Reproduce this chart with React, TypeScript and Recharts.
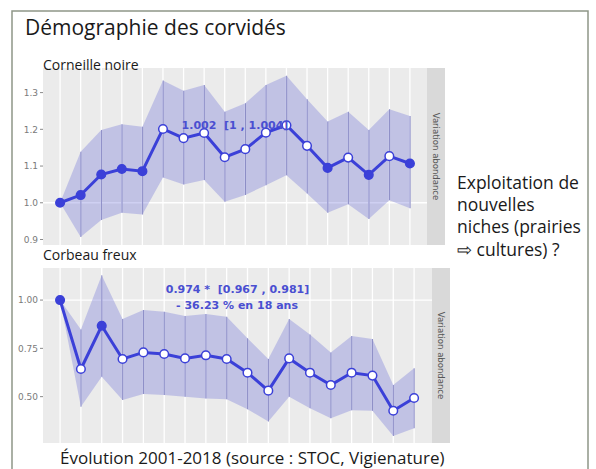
import React from "react";
import { ComposedChart, Line, Area, Bar, XAxis, YAxis, CartesianGrid } from "recharts";

const years = [2001, 2002, 2003, 2004, 2005, 2006, 2007, 2008, 2009, 2010, 2011, 2012, 2013, 2014, 2015, 2016, 2017, 2018];

const crowValues = [1.0, 1.021, 1.077, 1.092, 1.086, 1.201, 1.176, 1.19, 1.124, 1.146, 1.191, 1.211, 1.155, 1.095, 1.123, 1.076, 1.127, 1.107];
const crowLower = [1.0, 0.907, 0.953, 0.973, 0.968, 1.069, 1.05, 1.062, 1.003, 1.021, 1.048, 1.075, 1.025, 0.973, 0.996, 0.956, 1.007, 0.985];
const crowUpper = [1.0, 1.139, 1.198, 1.214, 1.207, 1.333, 1.305, 1.321, 1.248, 1.271, 1.321, 1.346, 1.282, 1.221, 1.248, 1.198, 1.255, 1.236];
const crowFilled = [true, true, true, true, true, false, false, false, false, false, false, false, false, true, false, true, false, true];

const rookValues = [1.0, 0.643, 0.867, 0.695, 0.729, 0.721, 0.698, 0.714, 0.695, 0.624, 0.531, 0.698, 0.624, 0.56, 0.624, 0.609, 0.427, 0.493];
const rookLower = [1.0, 0.448, 0.603, 0.483, 0.514, 0.509, 0.5, 0.491, 0.486, 0.435, 0.371, 0.5, 0.44, 0.388, 0.43, 0.427, 0.296, 0.336];
const rookUpper = [1.0, 0.848, 1.129, 0.902, 0.948, 0.94, 0.917, 0.928, 0.914, 0.802, 0.695, 0.902, 0.822, 0.729, 0.814, 0.798, 0.56, 0.647];
const rookFilled = [true, false, true, false, false, false, false, false, false, false, false, false, false, false, false, false, false, false];

const crowTicks = [0.9, 1.0, 1.1, 1.2, 1.3];
const rookTicks = [0.5, 0.75, 1.0];
const refValues = [1.0];

const crowData = years.map((y, i) => ({ year: y, value: crowValues[i], lower: crowLower[i], upper: crowUpper[i], filled: crowFilled[i] }));
const rookData = years.map((y, i) => ({ year: y, value: rookValues[i], lower: rookLower[i], upper: rookUpper[i], filled: rookFilled[i] }));

const BLUE = "#3b40d8";
const ANNOT = "#4a4fd1";

const renderDot = (props: any) => {
  const { cx, cy, payload, index } = props;
  return (
    <circle key={"d" + index} cx={cx} cy={cy} r={4.3} fill={payload.filled ? BLUE : "#ffffff"} stroke={BLUE} strokeWidth={1.5} />
  );
};

const applyScale = (axis: any, v: number) => {
  const s = axis && axis.scale;
  if (!s) return 0;
  if (typeof s === "function") return s(v);
  if (typeof s.map === "function") return s.map(v);
  return 0;
};

const tickStyle = { fontSize: 9, fill: "#7a7a7a", fontFamily: "DejaVu Sans" };

function Panel(props: any) {
  const { data, width, height, margin, xDomain, yDomain, ticks, fmt } = props;
  return (
    <ComposedChart width={width} height={height} data={data} margin={margin}>
      <XAxis type="number" dataKey="year" domain={xDomain} ticks={years} allowDataOverflow height={0} tick={false} tickLine={false} axisLine={false} />
      <YAxis type="number" domain={yDomain} allowDataOverflow ticks={ticks} tickFormatter={fmt} width={43} tick={tickStyle} tickLine={{ stroke: "#8a8a8a" }} tickSize={3} axisLine={false} />
      <CartesianGrid
        stroke="#ffffff"
        strokeWidth={1.3}
        fill="#ebebeb"
        verticalCoordinatesGenerator={({ xAxis }: any) => years.map((y) => applyScale(xAxis, y))}
        horizontalCoordinatesGenerator={({ yAxis }: any) => refValues.map((v) => applyScale(yAxis, v))}
      />
      <Area type="linear" dataKey={(d: any) => [d.lower, d.upper]} fill="#6c70d8" fillOpacity={0.33} stroke="none" isAnimationActive={false} activeDot={false} />
      <Bar dataKey={(d: any) => [d.lower, d.upper]} barSize={1} fill="#8d8ec6" isAnimationActive={false} />
      <Line type="linear" dataKey="value" stroke={BLUE} strokeWidth={3} dot={renderDot} activeDot={false} isAnimationActive={false} />
    </ComposedChart>
  );
}

export default function App() {
  return (
    <div style={{ position: "absolute", left: 0, top: 0, width: 596, height: 469, overflow: "hidden", background: "#ffffff" }}>
      <div style={{ position: "absolute", left: 0, top: 60 }}>
        <Panel data={crowData} width={450} height={190} margin={{ top: 8, right: 23, bottom: 5, left: 0 }} xDomain={[2000.17, 2018.83]} yDomain={[0.885, 1.367]} ticks={crowTicks} fmt={(v: number) => v.toFixed(1)} />
      </div>
      <div style={{ position: "absolute", left: 0, top: 260 }}>
        <Panel data={rookData} width={455} height={190} margin={{ top: 8, right: 23, bottom: 7, left: 0 }} xDomain={[2000.18, 2018.86]} yDomain={[0.26, 1.166]} ticks={rookTicks} fmt={(v: number) => v.toFixed(2)} />
      </div>
      <svg width={596} height={469} style={{ position: "absolute", left: 0, top: 0, pointerEvents: "none" }}>
        <path d="M12 480 L12 11 L588 11 L588 480" fill="none" stroke="#8f9688" strokeWidth={1.5} />
        <text x={25} y={34.5} fontFamily="Open Sans" fontSize={21} fill="#1a1a1a">Démographie des corvidés</text>
        <text x={43} y={69.5} fontFamily="Open Sans" fontSize={14} fill="#1a1a1a">Corneille noire</text>
        <text x={43} y={259.5} fontFamily="Open Sans" fontSize={14} fill="#1a1a1a">Corbeau freux</text>
        <rect x={427} y={68} width={18} height={177} fill="#d9d9d9" />
        <text x={436} y={156.5} transform="rotate(90 436 156.5)" textAnchor="middle" dominantBaseline="central" fontFamily="DejaVu Sans" fontSize={8.5} fill="#555555">Variation abondance</text>
        <rect x={432} y={268} width={18} height={175} fill="#d9d9d9" />
        <text x={441} y={355.5} transform="rotate(90 441 355.5)" textAnchor="middle" dominantBaseline="central" fontFamily="DejaVu Sans" fontSize={8.5} fill="#555555">Variation abondance</text>
        <text x={235} y={129.3} textAnchor="middle" fontFamily="DejaVu Sans" fontWeight="bold" fontSize={11} fill={ANNOT} style={{ whiteSpace: "pre" }}>{"1.002  [1 , 1.004]"}</text>
        <text x={237.5} y={292.7} textAnchor="middle" fontFamily="DejaVu Sans" fontWeight="bold" fontSize={11} fill={ANNOT} style={{ whiteSpace: "pre" }}>{"0.974 *  [0.967 , 0.981]"}</text>
        <text x={237} y={309.3} textAnchor="middle" fontFamily="DejaVu Sans" fontWeight="bold" fontSize={11} fill={ANNOT} style={{ whiteSpace: "pre" }}>{"- 36.23 % en 18 ans"}</text>
        <g fontFamily="Open Sans" fontSize={17.5} fill="#1a1a1a">
          <text x={457} y={189}>Exploitation de</text>
          <text x={457} y={211}>nouvelles</text>
          <text x={457} y={233}>niches (prairies</text>
          <text x={457} y={256}>⇨ cultures) ?</text>
        </g>
        <text x={60} y={464} fontFamily="Open Sans" fontSize={17} fill="#1a1a1a">Évolution 2001-2018 (source : STOC, Vigienature)</text>
      </svg>
    </div>
  );
}
